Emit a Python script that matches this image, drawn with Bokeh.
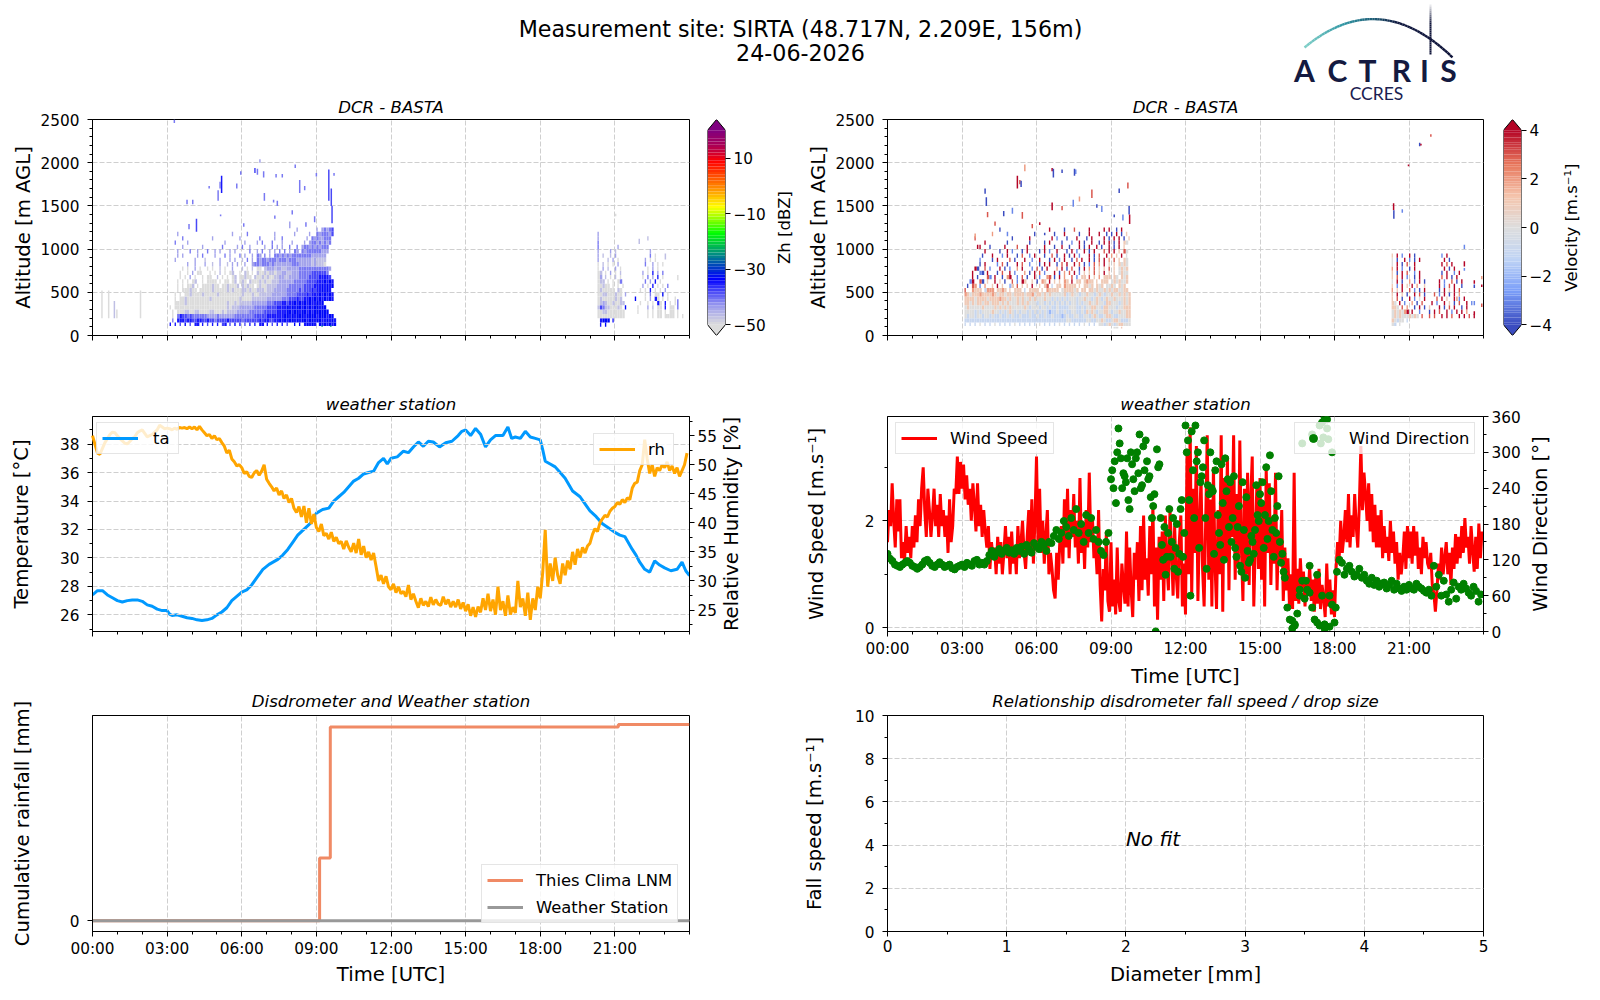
from bokeh.plotting import figure
from bokeh.layouts import column, row
from bokeh.models import (FixedTicker, Range1d, LinearAxis, Legend, LegendItem, ColumnDataSource)
from bokeh.embed import file_html
from bokeh.resources import INLINE
import numpy as np

FONT = "DejaVu Sans"
TITLE_LINE_1 = "Measurement site: SIRTA (48.717N, 2.209E, 156m)"
TITLE_LINE_2 = "24-06-2026"
HOUR_TICKS = [0, 3, 6, 9, 12, 15, 18, 21]
HOUR_LABELS = ["00:00", "03:00", "06:00", "09:00", "12:00", "15:00", "18:00", "21:00"]
HOUR_MINOR = list(range(0, 25))

# ---- radar reflectivity codes: '.' empty, 0..6 -> -50..-33 dBZ, 7 -> -25 dBZ
ZH_STEP = [-50, -47, -44, -41, -38, -35, -33, -25]
ZH_A_START = 3.1
ZH_A = {
 110: "5.5.4.6.4.55.5.4.5.5.45.4.6.5.4.5.5.55.5.4.5.5.4..6.6.56565.6565656",
 150: ".3.5554554455445443444454444434444445455445565656656566566566556565",
 200: ".0.354434333333222232222223333333344444555555566565666566665666566",
 250: ".0.0001100110000110001011112222233333344444555566566566565666666",
 300: "0.0000000000000000000001011122222233333444455556565665656566566",
 350: "..000010000000000000000100101111122222233344455455656565655656",
 400: "..0.00100000000010000000000010000111111222222333444544556565656565",
 450: "..0.0.001000010000010000000001000100111112222223333444454555656565",
 500: "...0.000100.00000100000101000110100111011122222333334344454556565",
 550: "...0.0.001.0.0000100.0010001.10100.0100111122222333333444455565656",
 600: "...0.0.0.01..0.0000.0.00.01.010.1000101001112222223333344445556565",
 650: "....0.0.2.0..0.00..1.0.0.01.00100.1001010011221122223333444455554",
 700: "....0..0.2.00...0.0.1.0.01..0.10.0.10010110112211222333334444443",
 750: ".....0.0..2.0..0.0..1.0..2...1.0.1.00.122212211222223333333333332",
 800: ".......2..2...2..1..2..1.2.2..2..233233323222222233322222121110",
 850: "..2.......2...1.....2...2.2..1.3.2.3233233323332333222222121111",
 900: "...2.2.....2.3....2...3.2...3.2..2.32.3.2.332323233333333222222",
 950: "...2....3..2...3..2.2...2.2.....3..2.3..2.2.3.3.2.32.32333333222",
 1000: ".....2.......2.......3.....2.3..2.....2..3.2.2..3..3.23323232333",
 1050: "..3....2..............2.......2....2.3...3...2...2....2.233232323",
 1100: ".....3...........2..........2.......3.....2..3.........2.32322333",
 1150: "...2.....................2.....3..........2.......2.....2..3233324",
 1200: "...................................................2.......2.23234",
}
ZH_B_START = 20.3
ZH_B = {
 100: ".5.6",
 150: ".5666.5",
 200: "00000000000.........0.0.00.0000.0.0",
 250: "00110000000.....0...0.0.00.0.00.0",
 300: "1431100010.6....0...2.1.00.5.00",
 350: "01210010011......0..0.0.50.5.0.0",
 400: "0100000101.....6...0.2.50.0.0..0",
 450: "0011000100.2.......0.3.00.6.0",
 500: "0100000.10.......0.0.5.0.0.2",
 550: "00100.0.0.0.......2.0.5.0.0.3",
 600: "011.0.0.03.........3.2.5.0",
 650: "02.1.0.1.0........0.3.2.5.0",
 700: "01.0.2.0.1........2.0.5.2.3",
 750: "0.2.1..2.0..........0.2.0",
 800: "0.1.0.0.2..........3..2.0.0",
 850: "2...1.2.0..........2.0.0",
 900: "2.1..1.2.............3.0",
 950: "2....2.1.............2",
 1000: "3.......2",
 1050: "3",
 1100: "2...................1",
 1150: "2",
}
# isolated streaks: time [h], lower and upper altitude [m], colour code
ZH_STREAKS = [
 (0.35, 200, 520, 0), (0.62, 200, 520, 0), (0.85, 200, 400, 1), (0.95, 200, 300, 0), (1.9, 200, 520, 0),
 (3.26, 2460, 2500, 3), (6.7, 2000, 2040, 2), (6.5, 1880, 1940, 4), (6.6, 1860, 1930, 3), (6.85, 1830, 1900, 3),
 (7.35, 1830, 1870, 3), (7.6, 1830, 1870, 3), (8.12, 1940, 1980, 3), (8.3, 1650, 1800, 3), (8.5, 1680, 1730, 3),
 (8.97, 1840, 1880, 3), (9.47, 1560, 1920, 4), (9.57, 1500, 1700, 4), (9.68, 1850, 1880, 3), (9.6, 1300, 1500, 4),
 (5.16, 1650, 1850, 5), (5.1, 1700, 1780, 3), (4.66, 1700, 1730, 3), (5.02, 1560, 1680, 3), (5.77, 1700, 1760, 3),
 (5.93, 1860, 1900, 3), (6.88, 1560, 1650, 3), (7.25, 1540, 1570, 3), (7.4, 1500, 1560, 3), (3.77, 1520, 1570, 3),
 (4.0, 1520, 1570, 3), (4.15, 1200, 1350, 4), (3.85, 1230, 1290, 3), (5.12, 1380, 1400, 3), (7.3, 1350, 1390, 3),
 (8.0, 1400, 1450, 3), (8.9, 1310, 1380, 3), (8.55, 1260, 1310, 3), (7.9, 1240, 1320, 2), (6.05, 1260, 1300, 3),
 (21.0, 1380, 1410, 0), (21.95, 1060, 1120, 1), (23.5, 300, 420, 3), (23.5, 640, 700, 0), (23.0, 880, 950, 1),
 (9.2, 100, 115, 7), (9.55, 100, 115, 7),
]

# ---- radar velocity codes: 0..8 -> -4..4 m/s
VEL_STEP = [-4, -3, -2, -1, 0, 1, 2, 3, 4]
VEL_A_START = 3.1
VEL_A = {
 80: "............................................................44.5",
 110: "3.3.3.4.3.3.4.3.3.3.4.3.3.3.3.4.3.3.3.4.3.3.3.3.4.3.3.4434543455444",
 150: "33333333333333333333333333333333333333333443333334433445433455433345",
 200: "4344344344343343343433433343343343343332343344334434543345543344455",
 250: "4444343444454434345434344343434343233433433443343545434455434454455",
 300: "4544444544445454545444445434443443433433334443343445544355444344555",
 350: "5545455455455545454445454544434434343434343443434454454435544434545",
 400: "5555455554555565545445454454544454434343434443445443454345445444545",
 450: "6545556555565455455455554556455454544444534544344544345434454454545",
 500: "7..6555.3666.5565.5.555.3.5555.5.65555.4555545.55.5545445454554455",
 550: ".0.76.1.6..5.8.5..25.7.5.5.8..5.57.3.55.65555.5.5545.545.4454.545",
 600: "..18..70.5..8.5.0..7.1.85..5.0.65.8.5.5.65.8.55.5655.5.555.4545445",
 650: "...8.0...71.8..0.68..1.7.0..8.1..67.0.8.6..7.1.55.7.5.6.555.54.545",
 700: "...8..10.8...0.7..8.1...6.0.8.7.1...8.0.6.7.8.1.5.5.7.5.8.5.5.4544",
 750: "....80..7.1...8.0.1..6.8...1.7.0.8...6.8.0.7..0.8.6.7.5.5.7.5.4545",
 800: "......0.8....1.7.0...8.7..1...0.8.8..0.7.8..8.7.0.1.7.6.8.5.5.5454",
 850: "......1....0.8....7.0...8..1..8...0.8.1.8..0.7.8..8.0.7.8.6.7.5.54",
 900: ".......0...8...1.8...0.7..1.8...0..7.0..8.0.8.1...8.0.7..8.6.5.8.4",
 950: "........8.....0..8.1...0.8....0.8.1..8...0.8.1..8.0.8...7.8.8.5.74",
 1000: "......8...0.....8....7...8......8...0..8..0...8.0.8..8.0..8.0.8.5",
 1050: "........8........0........0.....0.8....0...1..8.0..8..0.8.8.0.8.54",
 1100: "....7..............0......8........8.1...0...8...0.8....8.0.8.8.0.5",
 1150: "...........6................0.......0...8.....0...8...8..0.0.8.0.5",
 1200: "..............0...................8.....0...7.....8.....8.8..0.8.",
}
VEL_B_START = 20.3
VEL_B = {
 110: "43.4",
 150: "54344.3",
 200: "45454445454.7..7.7..8.8.7..8.8.7.8",
 250: "4545468.8..1...0.8.7..8.1.8.8.6",
 300: "554.7.6..0.8.0.5...8.0.7.8..0.8",
 350: "54.8.1..6.0.7...8.1..8.5.0.7..8.1",
 400: "5.7.0..8.1.4.8....7.8.5..8.1.8",
 450: "5.8.5.0..8.7.0...7.1.8.0.8.6",
 500: "6.5.8..7.1.0.8.....0.8.5.8.7",
 550: "5.1.8.5.8.6..5.....8.1.7.8..0",
 600: "4.8.0..6.1.8.0.....8.1..7.0.8",
 650: "5.7.8.1..0.8........7.8.0.8",
 700: "5.0.8.7..1.8........0.8..1.8",
 750: "6.8.1..0.8...........8.0.8",
 800: "4.8.0.7..8..........8.7.8",
 850: "4.0..8.1.0.8.........8.0",
 900: "5.8.1..8.0..........1.8",
}
VEL_STREAKS = [
 (6.6, 1900, 1940, 8), (6.65, 1830, 1930, 0), (7.0, 1880, 1920, 0), (7.5, 1850, 1930, 0), (7.55, 1870, 1920, 1),
 (5.2, 1700, 1850, 8), (5.3, 1750, 1800, 7), (5.35, 1720, 1790, 0), (5.5, 1900, 1980, 6), (3.9, 1640, 1700, 0),
 (3.95, 1500, 1600, 0), (4.0, 1370, 1430, 7), (4.65, 1380, 1440, 0), (5.0, 1410, 1480, 1), (5.4, 1350, 1430, 7),
 (6.6, 1450, 1540, 8), (7.0, 1450, 1500, 7), (7.45, 1490, 1570, 1), (7.7, 1550, 1610, 6), (8.2, 1590, 1690, 7),
 (8.4, 1480, 1520, 0), (8.6, 1430, 1500, 1), (9.1, 1370, 1400, 0), (9.3, 1650, 1700, 0), (9.45, 1330, 1400, 1),
 (9.65, 1700, 1770, 7), (9.7, 1400, 1500, 0), (9.72, 1290, 1400, 8), (4.3, 1270, 1320, 7), (4.8, 1150, 1200, 1),
 (5.8, 1240, 1290, 7), (6.1, 1280, 1310, 8), (6.3, 1160, 1190, 0), (3.6, 1000, 1050, 8), (3.5, 1130, 1180, 6),
 (20.35, 1450, 1530, 8), (20.36, 1350, 1450, 0), (20.7, 1420, 1460, 1), (20.95, 1960, 1980, 8), (21.4, 2190, 2230, 0),
 (21.45, 2200, 2220, 8), (21.85, 2300, 2330, 7), (23.2, 1000, 1050, 1), (23.2, 800, 860, 8), (23.2, 750, 780, 1),
 (23.6, 600, 640, 8), (23.6, 550, 590, 0), (23.9, 650, 690, 6), (23.9, 560, 590, 8), (23.9, 330, 370, 7), (23.6, 350, 400, 1),
 (23.6, 240, 280, 8), (22.9, 400, 450, 6),
]

# ---- weather station
TA_T = [0,.2,.4,.6,.8,1,1.2,1.4,1.6,1.8,2,2.2,2.4,2.6,2.8,3,3.1,3.2,3.4,3.6,3.8,4,4.2,4.4,4.6,4.8,5,5.2,5.4,5.6,5.8,6,6.2,6.4,6.6,6.85,7.1,7.45,7.65,7.85,8.05,8.25,8.55,8.8,9,9.25,9.5,9.7,9.9,10.1,10.3,10.5,10.7,10.9,11.1,11.3,11.5,11.7,11.85,12,12.25,12.5,12.7,12.9,13.1,13.3,13.5,13.7,13.95,14.2,14.45,14.7,14.85,15,15.2,15.4,15.6,15.8,16,16.2,16.5,16.7,16.85,17,17.2,17.4,17.6,17.8,18,18.1,18.2,18.4,18.6,18.8,19,19.3,19.6,19.8,20,20.25,20.5,20.75,21,21.2,21.4,21.7,21.85,22,22.2,22.4,22.6,22.8,23,23.25,23.5,23.7,23.85,24]
TA_V = [27.4,27.7,27.7,27.4,27.2,27,26.9,27,27.05,27.05,26.95,26.7,26.6,26.4,26.3,26.3,26.05,25.95,26,25.9,25.8,25.75,25.65,25.6,25.65,25.75,26,26.2,26.5,27,27.3,27.6,27.75,28.1,28.6,29.2,29.55,29.9,30.2,30.6,31.1,31.6,32.1,32.5,33.15,33.4,33.5,34,34.3,34.6,35,35.4,35.6,35.9,36,36.1,36.7,37,36.6,37,37.1,37.5,37.4,37.8,38.15,37.85,38.2,38.15,37.8,38.1,38.2,38.6,38.9,39,38.6,39.1,38.7,37.8,38.3,38.6,38.6,39.2,38.4,38.5,38.4,38.9,38.5,38.4,38.3,37.6,36.8,36.6,36.4,36,35.6,34.7,34.3,33.8,33.3,32.9,32.4,32.1,31.8,31.6,31.5,30.6,30.2,29.7,29.2,29,29.8,29.5,29.3,29.1,29.2,29.7,29.1,28.75]
RH_V = [55,53.5,52,51.8,52.8,53.8,54.5,55.2,55.6,55.5,
 55,54.5,54.1,53.7,53.6,54,54.5,54.8,55.5,55.8,
 56,55.4,54.8,55,55.2,55.6,56,56.8,56.5,56.2,
 56.3,56.2,56,56.3,56.1,56.4,56.3,56.4,56.2,56.5,
 56.2,56.5,56,56.6,56,55.5,55,55.2,54.5,55,
 54.3,54.5,53.8,53.2,52,52.5,51,50.5,49.8,50,
 49.5,48.5,48.8,48,47.8,48.6,49,48.2,48.9,50,
 47.5,46.8,46.2,45.5,46,44.8,45.5,44.2,44.8,43.5,
 44.2,42.5,41.8,42.8,41,42.9,40,42.5,39.8,41.5,
 39.2,38.5,39.8,37.8,38.2,37.2,38.4,36.8,37.5,36.4,
 36.8,35.5,36.9,35.8,35,36.5,34.8,37.2,34.5,36,
 34,35,33.6,34.8,32.5,30,31,29.5,30.8,29,
 28.5,29.5,28,29,27.8,28.2,27.3,29.3,26.8,27.8,
 26.5,25.4,27,25.8,26.5,25.6,27.2,25.9,26.8,26,
 25.8,27.3,26,26.8,25.5,26.5,25.5,26.8,25.2,26.3,
 24.8,26,24,25.5,23.8,25.6,24.6,27,25,27.8,
 24.8,26.8,24.2,29,25,26.5,24,27.5,24.2,25.5,
 24.5,30,25.5,27,24,28,23.3,27,25,29,
 27,31.5,38.8,29,33,30,34,31,29.5,33,
 31,33.5,32,35,32.8,35.5,34,35.8,34.8,36,
 36.5,38,39,38.5,40,40.7,41.3,41,42,42.5,
 42.8,43.5,43.2,44,43.5,44.3,44,46,46.8,47,
 49,50,54.3,51,48.5,50,48,49.5,49,50,
 49.5,50.5,49,49.8,48.5,49.5,48,49,50,52]
WIND_V = [1.6,2.2,1.9,2.7,2.0,1.5,2.4,1.8,2.4,1.3,1.6,1.25,1.9,1.4,1.7,1.3,
 1.9,1.5,2.1,1.6,2.4,1.9,2.6,3.0,2.2,1.7,2.6,2.2,1.7,2.1,2.6,1.9,
 2.3,1.7,2.5,1.9,2.2,1.7,2.1,1.4,2.4,1.6,1.9,2.6,2.5,3.2,2.5,3.1,
 2.6,3.05,2.4,2.85,2.3,2.6,2.0,2.7,2.3,1.8,2.7,1.9,2.3,1.7,2.2,1.8,
 1.5,1.9,1.1,1.6,1.3,1.5,1.0,1.7,1.2,1.6,1.0,1.4,1.9,1.3,1.7,1.0,
 1.8,1.2,1.5,1.0,1.9,1.3,1.6,2.0,1.4,1.1,1.7,2.2,1.5,2.4,1.2,2.0,
 3.2,1.6,2.6,1.4,2.0,1.2,1.7,2.2,1.0,1.4,1.1,.7,.55,1.4,.9,1.6,
 1.9,1.2,2.4,1.5,2.6,1.3,2.2,1.7,2.5,1.5,2.0,1.2,2.8,1.4,1.9,1.1,
 2.2,1.5,2.9,1.6,2.1,1.3,1.6,1.0,2.2,.8,.12,1.1,.7,1.8,.5,.3,
 1.6,.4,.9,.25,1.5,.5,.3,1.2,.8,.45,1.8,.4,1.5,.7,.2,1.4,
 .9,1.6,.5,1.9,.7,2.1,.9,1.3,.6,1.9,1.0,2.3,.4,1.5,.15,1.7,
 .9,1.8,.5,2.1,1.2,.7,2.2,1.5,.6,1.9,1.0,.55,1.6,2.1,.4,1.2,
 .25,3.3,1.0,3.75,.6,2.6,1.4,3.4,.5,1.9,2.8,1.1,.4,2.0,3.6,.9,
 2.4,.4,3.0,1.2,.35,2.2,1.0,3.6,.3,2.8,1.3,3.2,.7,2.7,1.7,3.6,
 .9,2.5,1.2,3.5,1.5,.5,2.6,1.0,2.9,.8,2.4,3.2,.4,1.6,2.7,1.1,
 2.8,.9,2.3,.4,3.0,1.4,2.7,.8,2.0,1.2,2.9,.7,1.8,1.2,2.2,.5,
 1.5,.7,1.3,.4,1.0,.35,2.9,.5,1.1,.45,1.3,.7,1.05,.4,.9,.6,
 1.15,.5,.9,.3,1.0,.45,1.1,.35,.8,.55,.2,1.2,.4,.9,.25,.7,
 .2,1.1,1.6,1.3,2.0,1.4,1.7,2.2,1.6,2.5,1.5,2.1,1.7,2.5,1.9,1.5,
 2.3,3.4,2.2,2.9,2.5,2.0,2.7,1.8,2.5,1.6,2.3,1.5,2.1,1.5,2.2,1.3,
 1.9,1.4,1.7,1.25,2.0,1.4,1.8,1.2,1.6,.9,1.4,1.0,1.3,1.8,1.1,1.9,
 1.3,1.8,1.2,1.9,1.35,1.8,1.1,1.5,1.0,1.7,1.3,1.6,1.2,1.1,1.4,.8,
 .65,.3,.7,1.2,.9,1.5,1.0,1.3,1.6,1.0,1.4,.8,1.5,1.1,1.75,1.2,
 1.7,1.3,1.9,1.4,2.05,1.5,1.7,1.2,1.9,1.45,1.05,1.7,1.1,1.95,1.3,1.8]
DIR_V = [130,122,118,112,110,108,112,115,118,115,
 110,108,105,108,112,118,120,115,110,108,
 112,116,112,108,110,112,106,104,108,110,
 112,108,115,112,110,118,120,112,115,112,
 118,128,135,125,132,138,130,135,140,132,
 136,130,140,135,142,130,145,138,132,148,
 142,138,150,145,135,150,148,160,170,155,
 165,185,175,160,190,170,205,165,180,150,
 195,165,190,155,170,150,135,128,150,165,
 255,240,215,340,290,265,250,220,300,255,
 290,265,240,310,320,255,225,210,0,275,
 190,120,95,165,125,190,140,100,205,125,
 345,320,60,270,345,300,250,275,190,245,
 300,235,270,195,145,215,290,255,250,190,
 140,175,110,250,90,135,120,150,170,195,
 230,250,195,155,295,170,190,210,150,130,
 90,40,20,5,12,30,70,85,55,70,
 110,40,20,95,10,60,5,355,60,45,
 15,100,120,115,95,105,110,100,92,95,
 105,90,95,85,80,90,78,85,75,80,
 82,72,78,85,70,80,72,68,75,70,
 78,72,70,80,75,72,68,65,70,60,
 110,75,95,60,85,62,50,70,82,55,
 75,70,80,72,65,60,75,68,50,62]
DIR_EXTRA_V = [270,285,300,315,240,260,290,205,280,235,
 300,330,245,270,285,260,190,230,305,280,
 145,175,125,205,150,105,180,130,220,165,
 300,220,335,190,285,140,260,320,105,230,
 240,130,285,165,280,120,235,175,150,260,
 125,210,100,170,225,115,160,130,245,185,
 215,140,275,185,235,125,165,260,115,100]
DIR_LATE_T = [17.1,17.4,17.5,17.6,17.7,17.55,17.45,17.75,17.9,16.7,16.6,17.3,17.6,17.8,16.3,16.4,16.85,17.0,18.05]
DIR_LATE_V = [330,345,350,358,340,325,315,322,300,315,60,15,12,8,18,10,85,65,40]

# ---- rainfall
RAIN_T = [0, 9.13, 9.13, 9.56, 9.56, 21.14, 21.14, 24]
RAIN_V = [0, 0, 0.324, 0.324, 1.0, 1.0, 1.012, 1.012]
STATION_T = [0, 24]
STATION_V = [0, 0]

# ---- colour maps
ZH_COLOURS = ["#dcdcdc", "#9999ee", "#0000ff", "#0040c0", "#008888", "#00ff00", "#80ff00", "#ffff00", "#ff8000", "#ff0000", "#b00050", "#800080"]
ZH_ANCHORS = [-50, -43, -33.5, -29, -25, -17, -12.5, -7.6, 0, 8.8, 14, 20]
VEL_COLOURS = ["#3b4cc0", "#7b9ff9", "#c0d4f5", "#dddddd", "#f5c4ac", "#e8775c", "#b40426"]
VEL_ANCHORS = [-4, -2.6, -1.3, 0, 1.3, 2.6, 4]


def hex2rgb(h):
    return [int(h[i:i+2], 16) for i in (1, 3, 5)]


def cmap(v, anchors, colours):
    rgb = np.array([hex2rgb(c) for c in colours], float)
    vals = [np.interp(v, anchors, rgb[:, i]) for i in range(3)]
    return "#%02x%02x%02x" % tuple(int(round(x)) for x in vals)


def style_axis(ax, size="15.3px", label_size="19.6px", standoff=3):
    ax.major_label_text_font = FONT
    ax.major_label_text_font_size = size
    ax.major_label_text_color = "black"
    ax.axis_label_text_font = FONT
    ax.axis_label_text_font_size = label_size
    ax.axis_label_text_font_style = "normal"
    ax.axis_label_text_color = "black"
    ax.axis_line_color = "black"
    ax.major_tick_line_color = "black"
    ax.minor_tick_line_color = "black"
    ax.major_tick_out = 5
    ax.major_tick_in = 0
    ax.minor_tick_out = 3
    ax.minor_tick_in = 0
    ax.major_label_standoff = standoff


def make_panel(width, height, left, right, top, bottom, title, x_range, y_range, ylabel, ysd,
               yticks, yminor, grid_y=True, xlabels=False, xlabel=None, hours=True, xticks=None, xminor=None, xsd=4,
               border_fill="white", title_standoff=6):
    p = figure(width=width, height=height, x_range=x_range, y_range=y_range,
               toolbar_location=None, output_backend="svg", min_border_left=left, min_border_right=right,
               min_border_top=top, min_border_bottom=bottom, outline_line_color="black", background_fill_color="white",
               border_fill_color=border_fill)
    p.title.text = title
    p.title.text_font = FONT
    p.title.text_font_size = "16.6px"
    p.title.text_font_style = "italic"
    p.title.text_color = "black"
    p.title.align = "center"
    p.title.standoff = title_standoff
    style_axis(p.xaxis[0])
    style_axis(p.yaxis[0], standoff=8)
    if hours:
        p.xaxis[0].ticker = FixedTicker(ticks=HOUR_TICKS, minor_ticks=HOUR_MINOR)
        p.xaxis[0].major_label_overrides = {t: (l if xlabels else "") for t, l in zip(HOUR_TICKS, HOUR_LABELS)}
    else:
        p.xaxis[0].ticker = FixedTicker(ticks=xticks, minor_ticks=xminor)
    if xlabel:
        p.xaxis[0].axis_label = xlabel
        p.xaxis[0].axis_label_standoff = xsd
    p.yaxis[0].ticker = FixedTicker(ticks=yticks, minor_ticks=yminor)
    p.yaxis[0].axis_label = ylabel
    p.yaxis[0].axis_label_standoff = ysd
    for g in p.grid:
        g.grid_line_color = "#cfcfcf"
        g.grid_line_dash = "5 2"
        g.grid_line_width = 1
    if not grid_y:
        p.ygrid.grid_line_color = None
    return p


def vlabel(width, height, top, bottom, center, text, size):
    """Narrow figure holding an upward-reading label beside a right-hand axis."""
    p = figure(width=width, height=height, x_range=(0, width), y_range=(0, 1), toolbar_location=None,
               output_backend="svg", x_axis_location=None, y_axis_location=None, min_border_left=0, min_border_right=0,
               min_border_top=top, min_border_bottom=bottom, outline_line_color=None, border_fill_color=None,
               background_fill_color=None)
    p.grid.visible = False
    p.text(x=[center], y=[0.5], text=[text], angle=np.pi / 2, text_font={"value": FONT}, text_font_size={"value": size},
           text_align="center", text_baseline="middle", text_color="black")
    return p


def radar_cells(blocks, streaks, steps, anchors, colours):
    left, right, bottom, top, fill = [], [], [], [], []
    for start, rows, cols in blocks:
        for z, s in rows.items():
            s = s[:cols]
            for i, ch in enumerate(s):
                if ch == ".":
                    continue
                t = start + i * 0.1
                lonely = (i == 0 or s[i - 1] == ".") and (i == len(s) - 1 or s[i + 1] == ".")
                left.append(t); right.append(t + (0.055 if lonely else 0.095))
                bottom.append(z); top.append((z // 50 + 1) * 50)
                fill.append(cmap(steps[int(ch)], anchors, colours))
    for t, z0, z1, code in streaks:
        left.append(t); right.append(t + 0.06)
        bottom.append(z0); top.append(z1)
        fill.append(cmap(steps[code], anchors, colours))
    return ColumnDataSource(dict(left=left, right=right, bottom=bottom, top=top, fill=fill))


def colourbar(width, height, left, right, top, bottom, vmin, vmax, ext, step, anchors, colours, ticks):
    p = figure(width=width, height=height, x_range=(0, 1), y_range=(vmin - ext, vmax + ext),
               toolbar_location=None, output_backend="svg", x_axis_location=None, y_axis_location="right",
               min_border_left=left, min_border_right=right, min_border_top=top, min_border_bottom=bottom,
               outline_line_color=None, border_fill_color=None)
    p.grid.visible = False
    levels = np.arange(vmin, vmax, step)
    p.quad(left=0, right=1, bottom=levels, top=levels + step,
           fill_color=[cmap(v + step / 2, anchors, colours) for v in levels], line_color=None)
    p.patch([0, 0.5, 1], [vmin, vmin - ext, vmin], fill_color=cmap(vmin, anchors, colours), line_color=None)
    p.patch([0, 0.5, 1], [vmax, vmax + ext, vmax], fill_color=cmap(vmax, anchors, colours), line_color=None)
    p.line([0, 0, 0.5, 1, 1, 0.5, 0], [vmin, vmax, vmax + ext, vmax, vmin, vmin - ext, vmin], line_color="black", line_width=1)
    ax = p.yaxis[0]
    style_axis(ax, label_size="16.5px")
    ax.axis_line_color = None
    ax.ticker = FixedTicker(ticks=ticks)
    ax.major_label_overrides = {t: str(t).replace("-", "\u2212") for t in ticks}
    return p


# ---- header (page pixel coordinates, logo decoration)
head = figure(width=1592, height=106, x_range=(0, 1592), y_range=(106, 0), toolbar_location=None,
              output_backend="svg", x_axis_location=None, y_axis_location=None, min_border=0, outline_line_color=None,
              margin=(0, 0, -14, 0))
head.grid.visible = False
head.text(x=[800, 800], y=[28.7, 52], text=[TITLE_LINE_1, TITLE_LINE_2], text_font={"value": FONT}, text_font_size={"value": "22.2px"},
          text_align="center", text_baseline="middle", text_color="black")
arc_x = np.linspace(1304, 1452, 60)
arc_y = 18.6 + ((arc_x - 1372.5) / 72.0) ** 2 * 31.4
arc_cols = [cmap(x, [1304, 1341, 1371, 1396, 1452], ["#7fcfc8", "#2f96a3", "#1f5f78", "#10183f", "#10153a"]) for x in arc_x]
head.segment(arc_x[:-1], arc_y[:-1], arc_x[1:], arc_y[1:], line_color=arc_cols[:-1], line_width=2.4)
v_y = np.linspace(2, 54, 27)
v_cols = [cmap(y, [2, 22, 54], ["#ffffff", "#10153a", "#10153a"]) for y in v_y]
head.segment([1430] * 26, v_y[:-1], [1430] * 26, v_y[1:], line_color=v_cols[:-1], line_width=2)
head.text(x=[1304, 1337, 1367, 1401, 1424, 1448], y=[69.5] * 6, text=list("ACTRIS"), text_font={"value": "Lato"},
          text_font_size={"value": "30px"}, text_font_style="bold", text_align="center", text_baseline="middle", text_color="#141a40")
head.text(x=[1376], y=[93], text=["CCRES"], text_font={"value": "Lato"}, text_font_size={"value": "17.5px"},
          text_align="center", text_baseline="middle", text_color="#1a2050")

# ---- row 1
ALT_TICKS = [0, 500, 1000, 1500, 2000, 2500]
ALT_MINOR = list(range(0, 2501, 100))
TOP, BOT = 27, 54
H1 = TOP + 216 + BOT
p1 = make_panel(700, H1, 92, 11, TOP, BOT, "DCR - BASTA", Range1d(0, 24), Range1d(0, 2500), "Altitude [m AGL]", 3, ALT_TICKS, ALT_MINOR, border_fill=None)
p1.quad(left="left", right="right", bottom="bottom", top="top", fill_color="fill", line_color=None,
        source=radar_cells([(ZH_A_START, ZH_A, 67), (ZH_B_START, ZH_B, 35)], ZH_STREAKS, ZH_STEP, ZH_ANCHORS, ZH_COLOURS))
cb1 = colourbar(70, H1, 7, 45, TOP, BOT, -50, 20, 3.9, 1, ZH_ANCHORS, ZH_COLOURS, [-50, -30, -10, 10])
cb1_label = vlabel(30, H1, TOP, BOT, 14, "Zh [dBZ]", "16.5px")

p2 = make_panel(694, H1, 87, 11, TOP, BOT, "DCR - BASTA", Range1d(0, 24), Range1d(0, 2500), "Altitude [m AGL]", 3, ALT_TICKS, ALT_MINOR, border_fill=None)
p2.quad(left="left", right="right", bottom="bottom", top="top", fill_color="fill", line_color=None,
        source=radar_cells([(VEL_A_START, VEL_A, 67), (VEL_B_START, VEL_B, 35)], VEL_STREAKS, VEL_STEP, VEL_ANCHORS, VEL_COLOURS))
cb2 = colourbar(63, H1, 9, 36, TOP, BOT, -4, 4, 0.44, 0.1, VEL_ANCHORS, VEL_COLOURS, [-4, -2, 0, 2, 4])
cb2_label = vlabel(35, H1, TOP, BOT, 14, "Velocity [m.s\u207b\u00b9]", "16.5px")

# ---- row 2
T2, B2 = 27, 58
H2 = T2 + 216 + B2
p3 = make_panel(719, H2, 92, 30, T2, B2, "weather station", Range1d(0, 24), Range1d(24.83, 39.94), "Temperature [\u00b0C]", 24,
                list(range(26, 39, 2)), list(range(25, 40)))
p3.extra_y_ranges = {"rh": Range1d(21.3, 58.3)}
rh_ax = LinearAxis(y_range_name="rh", ticker=FixedTicker(ticks=[25, 30, 35, 40, 45, 50, 55], minor_ticks=list(np.arange(22.5, 58, 2.5))))
style_axis(rh_ax)
p3.add_layout(rh_ax, "right")
rh_label = vlabel(81, H2, T2, B2, 12, "Relative Humidity [%]", "19.6px")
rh_t = [i / 10 for i in range(len(RH_V))]
ta_r = p3.line(TA_T, TA_V, line_color="#0099ff", line_width=3, level="underlay")
rh_r = p3.line(rh_t, RH_V, line_color="#ffa500", line_width=3, y_range_name="rh", level="annotation")


def legend(p, items, x, y, level=None, standoff=13, glyph_width=36):
    lg = Legend(items=[LegendItem(label=l, renderers=[r]) for l, r in items], location=(x, y),
                label_text_font=FONT, label_text_font_size="16.4px", label_text_color="black",
                border_line_color="#cccccc", background_fill_alpha=0.8, background_fill_color="white",
                glyph_width=glyph_width, glyph_height=20, label_height=20, spacing=7, padding=5, margin=0, label_standoff=standoff)
    if level:
        lg.level = level
    p.add_layout(lg, "center")
    return lg


legend(p3, [("ta", ta_r)], 4, 177, level="glyph", standoff=15)
legend(p3, [("rh", rh_r)], 501, 166, level="overlay")

p4 = make_panel(728, H2, 87, 45, T2, B2, "weather station", Range1d(0, 24), Range1d(-0.07, 3.95), "Wind Speed [m.s\u207b\u00b9]", 34,
                [0, 2], [1, 3], xlabels=True, xlabel="Time [UTC]")
p4.extra_y_ranges = {"dir": Range1d(0, 360)}
dir_ax = LinearAxis(y_range_name="dir", ticker=FixedTicker(ticks=list(range(0, 361, 60)), minor_ticks=list(range(0, 361, 30))))
style_axis(dir_ax)
p4.add_layout(dir_ax, "right")
dir_label = vlabel(64, H2, T2, B2, 12, "Wind Direction [\u00b0]", "19.6px")
wind_t = [i / 16 for i in range(len(WIND_V))]
w_r = p4.line(wind_t, WIND_V, line_color="#ff0000", line_width=3)
d_t = [i / 10 for i in range(len(DIR_V))]
d_r = p4.scatter(d_t, DIR_V, marker="circle", size=7, fill_color="#008000", line_color="#008000", y_range_name="dir")
d2_t = [9.05 + i / 10 for i in range(len(DIR_EXTRA_V))]
p4.scatter(d2_t, DIR_EXTRA_V, marker="circle", size=7, fill_color="#008000", line_color="#008000", y_range_name="dir")
p4.scatter(DIR_LATE_T, DIR_LATE_V, marker="circle", size=7, fill_color="#008000", line_color="#008000", y_range_name="dir")
legend(p4, [("Wind Speed", w_r)], 8, 177)
legend(p4, [("Wind Direction", d_r)], 407, 177, standoff=23, glyph_width=26)

# ---- row 3
T3, B3 = 32, 60
H3 = T3 + 216 + B3
p5 = make_panel(800, H3, 92, 111, T3, B3, "Disdrometer and Weather station", Range1d(0, 24), Range1d(-0.055, 1.059),
                "Cumulative rainfall [mm]", 33, [0], [], xlabels=True, xlabel="Time [UTC]", xsd=2, border_fill=None, title_standoff=10)
th_r = p5.line(RAIN_T, RAIN_V, line_color="#f08a65", line_width=3)
st_r = p5.line(STATION_T, STATION_V, line_color="#999999", line_width=3)
legend(p5, [("Thies Clima LNM", th_r), ("Weather Station", st_r)], 389, 8)

p6 = make_panel(792, H3, 87, 109, T3, B3, "Relationship disdrometer fall speed / drop size", Range1d(0, 5), Range1d(0, 10),
                "Fall speed [m.s\u207b\u00b9]", 26, [0, 2, 4, 6, 8, 10], list(range(0, 11)), hours=False,
                xticks=[0, 1, 2, 3, 4, 5], xminor=list(np.arange(0, 5.01, 0.5)), xlabel="Diameter [mm]", xsd=8,
                border_fill=None, title_standoff=10)
p6.text(x=[2.0], y=[4.28], text=["No fit"], text_font={"value": FONT}, text_font_size={"value": "20px"}, text_font_style="italic",
        text_color="black", text_align="left", text_baseline="middle")

layout = column(head,
                row(p1, cb1, cb1_label, p2, cb2, cb2_label, spacing=0),
                row(p3, rh_label, p4, dir_label, spacing=0, margin=(0, 0, -7, 0)),
                row(p5, p6, spacing=0),
                spacing=0)
open("out.html", "w").write(file_html(layout, INLINE))
